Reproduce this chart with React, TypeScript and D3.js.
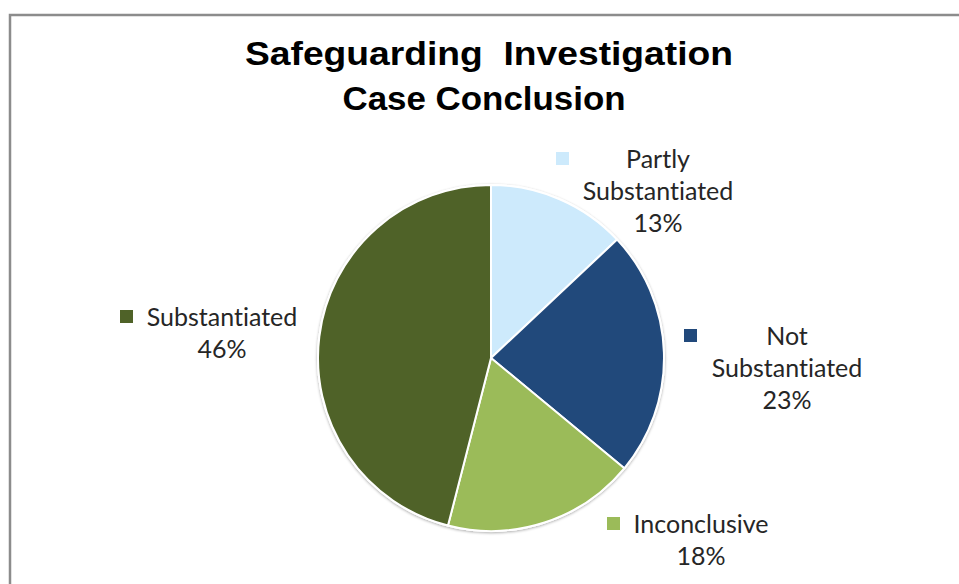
import React, { useEffect, useRef } from "react";
import * as d3 from "d3";

// chart data
const categories = ["Partly Substantiated", "Not Substantiated", "Inconclusive", "Substantiated"];
const shares = [13, 23, 18, 46];
const colors = ["#cdeafc", "#21497b", "#9bbb59", "#4f6228"];
// how Excel wrapped each label
const labelLines = [
  ["Partly", "Substantiated", "13%"],
  ["Not", "Substantiated", "23%"],
  ["Inconclusive", "18%"],
  ["Substantiated", "46%"],
];
const titleLines = ["Safeguarding  Investigation", "Case Conclusion"];

const W = 959;
const H = 584;

const App = () => {
  const svgRef = useRef<SVGSVGElement>(null);

  useEffect(() => {
    const svg = d3.select(svgRef.current);
    svg.selectAll("*").remove();

    // chart frame (runs off the right and bottom of the shot)
    svg
      .append("rect")
      .attr("x", 10)
      .attr("y", 15)
      .attr("width", W + 20)
      .attr("height", H + 20)
      .attr("fill", "#fff")
      .attr("stroke", "#8c8c8c")
      .attr("stroke-width", 2.5);

    // title
    const title = svg
      .append("g")
      .attr("font-family", "'Liberation Sans', Arial, sans-serif")
      .attr("font-weight", "bold")
      .attr("font-size", 34)
      .attr("fill", "#000")
      .attr("text-anchor", "middle");
    const titleX = [489, 484];
    const titleW = [488, 283];
    title
      .selectAll("text")
      .data(titleLines)
      .enter()
      .append("text")
      .attr("x", (d, i) => titleX[i])
      .attr("y", (d, i) => 65 + i * 45)
      .attr("textLength", (d, i) => titleW[i])
      .attr("lengthAdjust", "spacingAndGlyphs")
      .style("white-space", "pre")
      .text((d) => d);

    // pie
    const cx = 491;
    const cy = 358;
    const r = 173;
    const pie = d3
      .pie<number>()
      .sort(null)
      .value((d) => d);
    const arc = d3.arc<d3.PieArcDatum<number>>().innerRadius(0).outerRadius(r);
    const g = svg.append("g").attr("transform", `translate(${cx},${cy})`);

    const defs = svg.append("defs");
    const f = defs.append("filter").attr("id", "pieShadow").attr("x", "-10%").attr("y", "-10%").attr("width", "120%").attr("height", "120%");
    f.append("feGaussianBlur").attr("in", "SourceAlpha").attr("stdDeviation", 1.5);
    f.append("feOffset").attr("dx", 0).attr("dy", 0.5).attr("result", "b");
    f.append("feComponentTransfer").append("feFuncA").attr("type", "linear").attr("slope", 0.35);
    const m = f.append("feMerge");
    m.append("feMergeNode");
    m.append("feMergeNode").attr("in", "SourceGraphic");

    g.append("circle").attr("r", r + 1).attr("fill", "#fff").attr("filter", "url(#pieShadow)");

    g.selectAll("path")
      .data(pie(shares))
      .enter()
      .append("path")
      .attr("d", arc)
      .attr("fill", (d, i) => colors[i])
      .attr("stroke", "#fff")
      .attr("stroke-width", 2)
      .attr("stroke-linejoin", "round");

    // data labels (Excel best-fit placement)
    const labelX = [658, 787, 701, 222];
    const labelY = [168, 345, 533, 326];
    const markerX = [556, 684, 607, 120];
    const lineH = 32;

    const labels = svg
      .append("g")
      .attr("font-family", "Lato, 'Open Sans', sans-serif")
      .attr("font-size", 25)
      .attr("fill", "#262626")
      .style("font-variant-ligatures", "none");

    categories.forEach((c, i) => {
      const lg = labels.append("g").attr("class", "label");
      lg.append("rect")
        .attr("x", markerX[i])
        .attr("y", labelY[i] - 16)
        .attr("width", 13)
        .attr("height", 13)
        .attr("fill", colors[i]);
      lg.selectAll("text")
        .data(labelLines[i])
        .enter()
        .append("text")
        .attr("x", labelX[i])
        .attr("y", (d, j) => labelY[i] + j * lineH)
        .attr("text-anchor", "middle")
        .text((d) => d);
    });
  }, []);

  return (
    <svg
      ref={svgRef}
      width={W}
      height={H}
      style={{ position: "absolute", left: 0, top: 0, background: "#fff" }}
    ></svg>
  );
};

export default App;
